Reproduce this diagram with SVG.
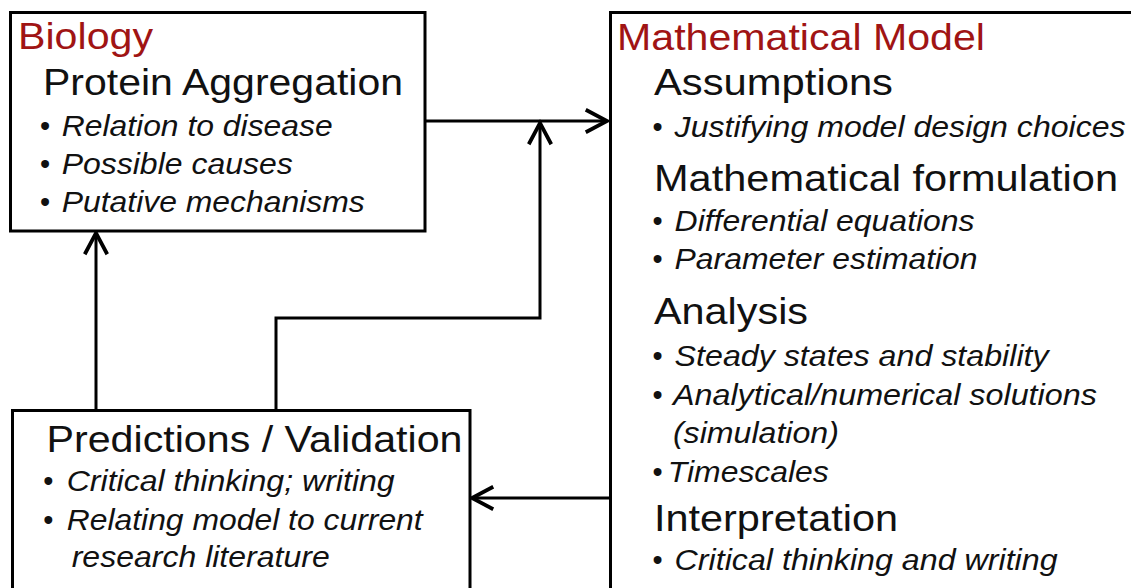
<svg xmlns="http://www.w3.org/2000/svg" width="1131" height="588" viewBox="0 0 1131 588">
  <defs>
    <marker id="arr" markerUnits="userSpaceOnUse" markerWidth="30" markerHeight="30" viewBox="-20 -12 24 24" refX="0" refY="0" orient="auto">
      <path d="M -17 -9 L 0 0 L -17 9" fill="none" stroke="#000" stroke-width="3" stroke-linejoin="miter"/>
    </marker>
    <style>
      .box { fill: #fff; stroke: #000; stroke-width: 3; }
      .title { font-family: "Liberation Sans", Arial, sans-serif; font-size: 37px; fill: #a01414; }
      .head { font-family: "Liberation Sans", Arial, sans-serif; font-size: 37px; fill: #111; }
      .item { font-family: "Liberation Sans", Arial, sans-serif; font-size: 29px; font-style: italic; fill: #111; }
      .bul { font-family: "Liberation Sans", Arial, sans-serif; font-size: 29px; fill: #111; }
      .conn { fill: none; stroke: #000; stroke-width: 3; }
    </style>
  </defs>
  <rect width="1131" height="588" fill="#fff"/>

  <g id="connectors">
    <path class="conn" d="M 425 121 H 607" marker-end="url(#arr)"/>
    <path class="conn" d="M 276 410 V 318 H 540 V 123" marker-end="url(#arr)"/>
    <path class="conn" d="M 96 410 V 233" marker-end="url(#arr)"/>
    <path class="conn" d="M 610 498 H 472" marker-end="url(#arr)"/>
  </g>

  <g id="biology">
    <rect class="box" x="10.5" y="12.5" width="414.5" height="218.5"/>
    <text class="title" x="18" y="49" textLength="135" lengthAdjust="spacingAndGlyphs">Biology</text>
    <text class="head" x="43" y="95" textLength="360" lengthAdjust="spacingAndGlyphs">Protein Aggregation</text>
    <text class="bul" x="40" y="136">•</text>
    <text class="item" x="61.7" y="136" textLength="271" lengthAdjust="spacingAndGlyphs">Relation to disease</text>
    <text class="bul" x="40" y="174">•</text>
    <text class="item" x="61.7" y="174" textLength="231" lengthAdjust="spacingAndGlyphs">Possible causes</text>
    <text class="bul" x="40" y="212">•</text>
    <text class="item" x="61.7" y="212" textLength="303" lengthAdjust="spacingAndGlyphs">Putative mechanisms</text>
  </g>

  <g id="model">
    <rect class="box" x="610.5" y="12.5" width="540" height="600"/>
    <text class="title" x="617" y="50" textLength="368" lengthAdjust="spacingAndGlyphs">Mathematical Model</text>
    <text class="head" x="654" y="95" textLength="239" lengthAdjust="spacingAndGlyphs">Assumptions</text>
    <text class="bul" x="652.5" y="136.5">•</text>
    <text class="item" x="674.6" y="136.5" textLength="451" lengthAdjust="spacingAndGlyphs">Justifying model design choices</text>
    <text class="head" x="654" y="191" textLength="464" lengthAdjust="spacingAndGlyphs">Mathematical formulation</text>
    <text class="bul" x="652.5" y="231">•</text>
    <text class="item" x="674.6" y="231" textLength="300" lengthAdjust="spacingAndGlyphs">Differential equations</text>
    <text class="bul" x="652.5" y="269">•</text>
    <text class="item" x="674.6" y="269" textLength="303" lengthAdjust="spacingAndGlyphs">Parameter estimation</text>
    <text class="head" x="654" y="324" textLength="154" lengthAdjust="spacingAndGlyphs">Analysis</text>
    <text class="bul" x="652.5" y="366">•</text>
    <text class="item" x="674.6" y="366" textLength="374" lengthAdjust="spacingAndGlyphs">Steady states and stability</text>
    <text class="bul" x="652.5" y="405">•</text>
    <text class="item" x="672.9" y="405" textLength="424" lengthAdjust="spacingAndGlyphs">Analytical/numerical solutions</text>
    <text class="item" x="672.9" y="443" textLength="166" lengthAdjust="spacingAndGlyphs">(simulation)</text>
    <text class="bul" x="652.5" y="482">•</text>
    <text class="item" x="667.8" y="482" textLength="161" lengthAdjust="spacingAndGlyphs">Timescales</text>
    <text class="head" x="654" y="531" textLength="244" lengthAdjust="spacingAndGlyphs">Interpretation</text>
    <text class="bul" x="652.5" y="570">•</text>
    <text class="item" x="674.6" y="570" textLength="383" lengthAdjust="spacingAndGlyphs">Critical thinking and writing</text>
  </g>

  <g id="predictions">
    <rect class="box" x="12.5" y="410.5" width="457.5" height="200"/>
    <text class="head" x="46.5" y="452" textLength="416" lengthAdjust="spacingAndGlyphs">Predictions / Validation</text>
    <text class="bul" x="43.3" y="491">•</text>
    <text class="item" x="66.7" y="491" textLength="328" lengthAdjust="spacingAndGlyphs">Critical thinking; writing</text>
    <text class="bul" x="43.3" y="530">•</text>
    <text class="item" x="66.7" y="530" textLength="356" lengthAdjust="spacingAndGlyphs">Relating model to current</text>
    <text class="item" x="71.7" y="567" textLength="258" lengthAdjust="spacingAndGlyphs">research literature</text>
  </g>
</svg>
